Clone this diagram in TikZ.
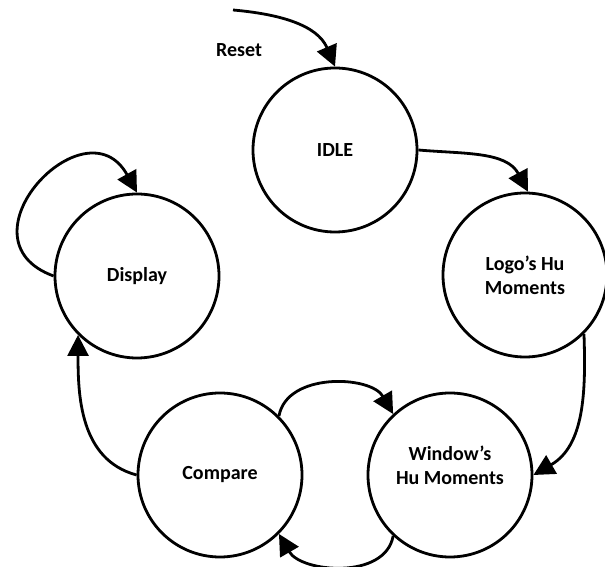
\documentclass[tikz,border=0pt]{standalone}
\usepackage{fontspec}
\setmainfont{Carlito}
\usetikzlibrary{arrows.meta}

\begin{document}
\begin{tikzpicture}[x=1pt, y=1pt,
    state/.style={circle, draw, line width=2.8pt, minimum size=164pt, inner sep=0pt,
      align=center, font=\bfseries\fontsize{20}{24}\selectfont},
    trans/.style={line width=2.8pt, -{Triangle[length=21pt, width=21pt]}}]
    \useasboundingbox (0,0) rectangle (605,567);

    % States
    \node[state] (idle) at (335,417) {IDLE};
    \node[state] (logo) at (525,292) {Logo’s Hu\\Moments};
    \node[state] (window) at (450,92) {Window’s\\Hu Moments\\[-4pt]\mbox{}};
    \node[state] (compare) at (220,92) {Compare};
    \node[state] (display) at (137,291) {Display};

    % Reset
    \coordinate (rst) at (233,557);
    \node[font=\bfseries\fontsize{20}{24}\selectfont] (rstlabel) at (239,517) {Reset};
    \draw[trans] (rst) to[out=-5, in=113] (idle.90);

    % Transitions
    \draw[trans] (idle.0) to[out=-5, in=118] (logo.88);
    \draw[trans] (logo.-45) to[out=-88, in=30] (window.0);
    \draw[trans] (compare.45) to[out=80, in=120] (window.133);
    \draw[trans] (window.-133) to[out=-100, in=-60] (compare.-45);
    \draw[trans] (compare.180) to[out=165, in=-90] (display.-135);
    \draw[trans] (display.180) to[out=160, in=119, looseness=2.3] (display.90);
\end{tikzpicture}
\end{document}
